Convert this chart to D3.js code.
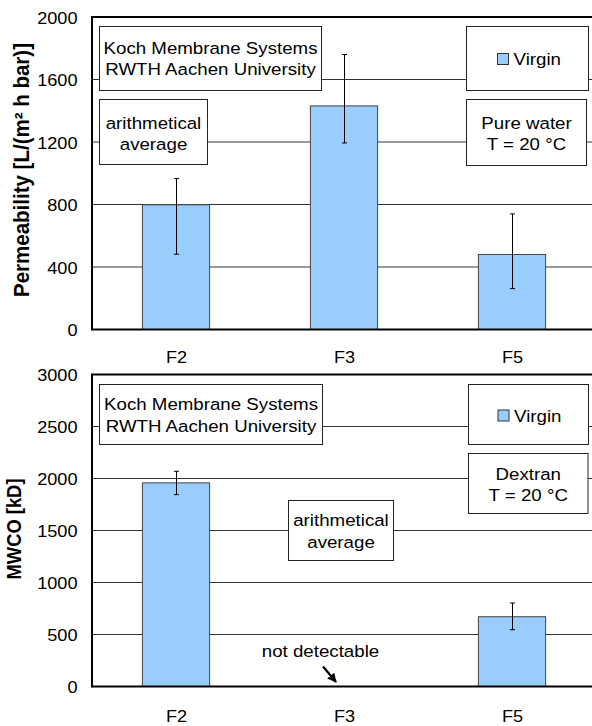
<!DOCTYPE html>
<html><head><meta charset="utf-8">
<script src="https://cdn.jsdelivr.net/npm/d3@7"></script>
<style>
html,body{margin:0;padding:0;background:#fff;}
svg{display:block;font-family:"Liberation Sans",Arial,Helvetica,sans-serif;}
</style></head><body>
<svg id="chart" width="592" height="726"></svg>
<script>
// Membranes
const categories = ["F2", "F3", "F5"];

// Pure water permeability, L/(m² h bar): mean with lower / upper error bounds
const permeability = [798, 1431, 480];
const permLow = [482, 1194, 262];
const permHigh = [966, 1760, 740];
const permTicks = [0, 400, 800, 1200, 1600, 2000];

// Dextran MWCO, kD (F3 not detectable)
const mwco = [1958, null, 671];
const mwcoLow = [1845, null, 546];
const mwcoHigh = [2069, null, 803];
const mwcoTicks = [0, 500, 1000, 1500, 2000, 2500, 3000];

const seriesName = "Virgin";
const SX = 1.1;             // horizontal text widening
const BAR_FILL = "#99CCFF";

const svg = d3.select("#chart");

function wideText(sel, x, y, str, size, anchor, weight) {
  return sel.append("text")
    .attr("transform", `translate(${x},${y}) scale(${SX},1)`)
    .attr("text-anchor", anchor || "middle")
    .attr("font-size", size)
    .attr("font-weight", weight || "normal")
    .attr("fill", "#000")
    .text(str);
}

function box(g, x, y, w, h) {
  g.append("rect").attr("x", x).attr("y", y).attr("width", w).attr("height", h)
    .attr("fill", "#fff").attr("stroke", "#222").attr("stroke-width", 1);
}

function textBox(g, b) {
  box(g, b.x, b.y, b.w, b.h);
  const cx = b.x + b.w / 2;
  b.lines.forEach((t, i) => wideText(g, cx, b.base[i], t, 17));
}

function legendBox(g, b) {
  box(g, b.x, b.y, b.w, b.h);
  g.append("rect").attr("x", b.sx).attr("y", b.sy).attr("width", 11).attr("height", 11)
    .attr("fill", BAR_FILL).attr("stroke", "#333").attr("stroke-width", 1);
  wideText(g, b.sx + 16, b.sy + 11.5, seriesName, 17, "start");
}

function panel(cfg) {
  const g = svg.append("g");
  const left = 92, right = 596;
  const x = d3.scaleBand().domain(categories).range([left, right])
    .paddingInner(0.6).paddingOuter(0.3);
  const y = d3.scaleLinear().domain([0, cfg.max]).range([cfg.bottom, cfg.top]);

  // horizontal gridlines
  g.append("g").selectAll("line")
    .data(cfg.ticks.filter(t => t > 0 && t < cfg.max))
    .join("line")
    .attr("x1", left).attr("x2", right)
    .attr("y1", d => y(d)).attr("y2", d => y(d))
    .attr("stroke", "#333").attr("stroke-width", 1);

  // annotation boxes and legend
  cfg.boxes.forEach(b => textBox(g, b));
  legendBox(g, cfg.legend);

  // bars
  const rows = categories.map((c, i) => ({ c, v: cfg.values[i], lo: cfg.low[i], hi: cfg.high[i] }))
    .filter(d => d.v != null);
  g.selectAll("rect.bar").data(rows).join("rect").attr("class", "bar")
    .attr("x", d => x(d.c)).attr("width", x.bandwidth())
    .attr("y", d => y(d.v)).attr("height", d => y(0) - y(d.v))
    .attr("fill", BAR_FILL).attr("stroke", "#444").attr("stroke-width", 1);

  // error bars
  const cxOf = d => Math.round(x(d.c) + x.bandwidth() / 2) + 0.5;
  const eb = g.append("g").attr("stroke", "#000").attr("stroke-width", 1);
  eb.selectAll("line.v").data(rows).join("line")
    .attr("x1", cxOf).attr("x2", cxOf).attr("y1", d => y(d.hi)).attr("y2", d => y(d.lo));
  ["hi", "lo"].forEach(k => {
    eb.selectAll("line." + k).data(rows).join("line").attr("class", k)
      .attr("x1", d => cxOf(d) - 2.5).attr("x2", d => cxOf(d) + 2.5)
      .attr("y1", d => y(d[k])).attr("y2", d => y(d[k]));
  });

  // y axis labels
  const ay = g.append("g").attr("transform", `translate(${left},0)`)
    .call(d3.axisLeft(y).tickValues(cfg.ticks).tickSize(0).tickFormat(d3.format("d")));
  ay.select(".domain").remove();
  ay.attr("font-size", null).attr("font-family", null);
  ay.selectAll("text").attr("x", 0).attr("dy", 0).attr("fill", "#000")
    .attr("font-size", 16.5).attr("text-anchor", "end")
    .attr("transform", `translate(-14.5,6) scale(${SX},1)`);

  // x axis labels
  const ax = g.append("g").attr("transform", `translate(0,${y(0)})`)
    .call(d3.axisBottom(x).tickSize(0));
  ax.select(".domain").remove();
  ax.attr("font-size", null).attr("font-family", null);
  ax.selectAll("text").attr("y", 0).attr("dy", 0).attr("fill", "#000")
    .attr("font-size", 16.5)
    .attr("transform", `translate(0.5,${cfg.labelOffset}) scale(${SX},1)`);

  // frame: top border, left axis, baseline
  const frame = g.append("g").attr("stroke", "#000").attr("stroke-width", 2);
  frame.append("line").attr("x1", left).attr("x2", right).attr("y1", y(cfg.max)).attr("y2", y(cfg.max));
  frame.append("line").attr("x1", left).attr("x2", right).attr("y1", y(0)).attr("y2", y(0));
  frame.append("line").attr("x1", left).attr("x2", left).attr("y1", y(cfg.max) - 1).attr("y2", y(0) + 1);

  // axis title
  g.append("text")
    .attr("transform", `translate(${cfg.titleX},${cfg.titleY}) rotate(-90) scale(1,${SX})`)
    .attr("text-anchor", "middle").attr("font-weight", "bold")
    .attr("font-size", cfg.titleSize).attr("fill", "#000")
    .attr("textLength", cfg.titleLength).attr("lengthAdjust", "spacingAndGlyphs")
    .text(cfg.title);

  return { g, x, y };
}

// Pure water permeability
panel({
  max: 2000, top: 17, bottom: 329.5, ticks: permTicks,
  values: permeability, low: permLow, high: permHigh,
  labelOffset: 33.5,
  title: "Permeability [L/(m² h bar)]", titleX: 28.5, titleY: 170, titleSize: 19.5, titleLength: 254,
  boxes: [
    { x: 99.5, y: 26.5, w: 222, h: 64, lines: ["Koch Membrane Systems", "RWTH Aachen University"], base: [53.5, 75] },
    { x: 99.5, y: 99.5, w: 108, h: 65, lines: ["arithmetical", "average"], base: [128.5, 149.5] },
    { x: 466.5, y: 99.5, w: 120, h: 66, lines: ["Pure water", "T = 20 °C"], base: [129, 149.5] }
  ],
  legend: { x: 466.5, y: 26.5, w: 122, h: 64, sx: 497.5, sy: 53.5 }
});

// Dextran MWCO
const mw = panel({
  max: 3000, top: 374.5, bottom: 686.5, ticks: mwcoTicks,
  values: mwco, low: mwcoLow, high: mwcoHigh,
  labelOffset: 35,
  title: "MWCO [kD]", titleX: 20.5, titleY: 529, titleSize: 18, titleLength: 101,
  boxes: [
    { x: 99.5, y: 384.5, w: 223, h: 60, lines: ["Koch Membrane Systems", "RWTH Aachen University"], base: [410, 431.5] },
    { x: 468.5, y: 453.5, w: 119.5, h: 60, lines: ["Dextran", "T = 20 °C"], base: [479.5, 501] },
    { x: 288.5, y: 500.5, w: 105, h: 60, lines: ["arithmetical", "average"], base: [526, 547.5] }
  ],
  legend: { x: 468.5, y: 384.5, w: 120, h: 60, sx: 498, sy: 410 }
});

// "not detectable" note with arrow pointing at the empty F3 slot
(function () {
  const { g, x, y } = mw;
  const cx = x("F3") + x.bandwidth() / 2;
  const tip = [cx - 8, y(0) - 4.5];
  const tail = [tip[0] - 13, tip[1] - 15.5];
  wideText(g, cx - 23.5, y(0) - 30, "not detectable", 17);
  const defs = svg.append("defs");
  defs.append("marker").attr("id", "head").attr("viewBox", "0 0 10 10")
    .attr("refX", 9).attr("refY", 5).attr("markerWidth", 4.2).attr("markerHeight", 4.2)
    .attr("orient", "auto")
    .append("path").attr("d", "M0,0 L10,5 L0,10 z").attr("fill", "#000");
  g.append("line").attr("x1", tail[0]).attr("y1", tail[1]).attr("x2", tip[0]).attr("y2", tip[1])
    .attr("stroke", "#000").attr("stroke-width", 2.2).attr("marker-end", "url(#head)");
})();
</script>
</body></html>
